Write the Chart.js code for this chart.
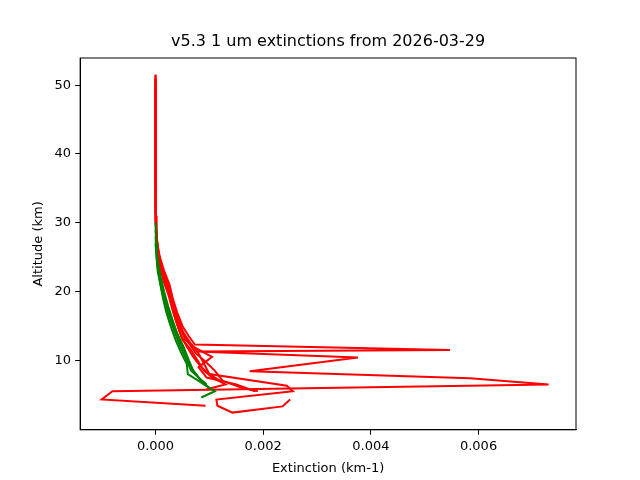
<!DOCTYPE html>
<html><head><script src="https://cdn.jsdelivr.net/npm/chart.js"></script>
<style>body{margin:0;background:#fff}#w{width:640px;height:480px}</style></head>
<body><div id="w"><canvas id="c"></canvas></div>
<script>
const titleText = 'v5.3 1 um extinctions from 2026-03-29';
const redAlt = [
 [51.5,45,40,35,30,27,25,23,21,19,17,15,13.5,12.3,11.5,11.3,10.4,8.4,7.4,6.5,5.5,4.3,3.4],
 [51,44,38,32,29,26,24,22,20,18,16,14,12.5,11,9.5,8,6.3,5.5,4.3,3.4,2.4,3.3,4.3],
 [51.5,42,36,31,28,25.5,23,21,19,17,15,13,12,10.5,9,7.5,6.5,5.5],
 [50,43,37,31,28,26,24,22,20,18,16,14,12.5,11,10,8.5,7,6,5.5],
 [51,44,38,33,29,26,23.5,21.5,19.5,17.5,15.5,13.5,12,10.5,9,8,7],
 [50.5,42,36,30,27.5,25,23,21,19,17,15,13,11.5,10,8.5,7.5,6.5,5.8]
];
const redExt = [
 [0,0,0,0,0.00001,0.00003,0.00008,0.00016,0.00026,0.00032,0.0004,0.0005,0.00062,0.00073,0.00547,0.00076,0.00376,0.00175,0.00584,0.0073,-0.0008,-0.001,0.00093],
 [0,0,0,0,0.00001,0.00004,0.0001,0.00018,0.00028,0.00034,0.00042,0.00052,0.00065,0.0008,0.0009,0.001,0.00244,0.00255,0.00113,0.00115,0.00143,0.00236,0.0025],
 [0,0,0,0,0.00002,0.00006,0.00012,0.0002,0.0003,0.00037,0.00045,0.00055,0.0007,0.00105,0.0008,0.00095,0.0015,0.00185],
 [0,0,0,0.00001,0.00002,0.00005,0.0001,0.00017,0.00025,0.0003,0.00038,0.0005,0.00062,0.00075,0.0009,0.0011,0.00125,0.0016,0.0019],
 [0,0,0,0,0.00001,0.00004,0.00009,0.00015,0.00024,0.00031,0.00039,0.00048,0.00058,0.0007,0.00085,0.001,0.0012],
 [0,0,0,0,0.00002,0.00005,0.00011,0.00019,0.00027,0.00033,0.00041,0.0005,0.00066,0.00078,0.0009,0.00105,0.0013,0.00095]
];
const greenAlt = [
 [30,26,24,22,20,18,16,14,12,10,8.5,7,6],
 [29,25,23,21,19,17,15,13,11,9,8,6.5,5.5,4.6],
 [28,25,23,21,19,17,15,13,11,9.5,8,7,6.5],
 [27,24,22,20,18,16,14,12,10,8.5,7.5,6.5]
];
const greenExt = [
 [0,0.00002,0.00005,0.0001,0.00016,0.00023,0.00031,0.0004,0.00052,0.00062,0.0007,0.00085,0.001],
 [0,0.00003,0.00006,0.00011,0.00018,0.00026,0.00034,0.00044,0.00055,0.00065,0.00075,0.0009,0.0011,0.00085],
 [0,0.00002,0.00004,0.00009,0.00014,0.0002,0.00028,0.00037,0.00048,0.00058,0.0006,0.0008,0.0009],
 [0,0.00003,0.00007,0.00012,0.00019,0.00027,0.00036,0.00046,0.00058,0.00066,0.0008,0.00095]
];
const ds=[];
function add(alts,exts,col){alts.forEach((a,i)=>ds.push({data:a.map((y,j)=>({x:exts[i][j],y})),borderColor:col,backgroundColor:col,showLine:true,pointRadius:0,borderWidth:2,tension:0}));}
add(greenAlt,greenExt,'green');
add(redAlt,redExt,'red');
const f={family:'DejaVu Sans',size:13};
const box={id:'box',afterDraw(c){const a=c.chartArea,x=c.ctx;x.save();x.strokeStyle='#000';x.lineWidth=1;x.strokeRect(a.left,a.top,a.right-a.left,a.bottom-a.top);
 x.fillStyle='#000';x.font='16px "DejaVu Sans"';x.textAlign='center';x.textBaseline='bottom';x.fillText(titleText,(a.left+a.right)/2,a.top-8);x.restore();}};
const g={display:true,drawOnChartArea:false,drawTicks:true,tickLength:5,color:'#000'};
new Chart(document.getElementById('c'),{type:'scatter',data:{datasets:ds},plugins:[box],
options:{responsive:true,maintainAspectRatio:false,animation:false,
layout:{padding:{left:27,right:64,top:58,bottom:4}},
plugins:{legend:{display:false},tooltip:{enabled:false},title:{display:false}},
scales:{x:{min:-0.00140,max:0.00781,grid:g,border:{color:'#000'},
 ticks:{color:'#000',font:f,padding:4,callback:v=>v.toFixed(3)},
 afterBuildTicks:a=>{a.ticks=[0,0.002,0.004,0.006].map(v=>({value:v}));},
 title:{display:true,text:'Extinction (km-1)',color:'#000',font:f,padding:{top:2,bottom:0}}},
 y:{min:-0.1,max:53.95,grid:g,border:{color:'#000'},
 afterBuildTicks:a=>{a.ticks=[10,20,30,40,50].map(v=>({value:v}));},
 ticks:{color:'#000',font:f,padding:4},title:{display:true,text:'Altitude (km)',color:'#000',font:f}}}}});
</script></body></html>
